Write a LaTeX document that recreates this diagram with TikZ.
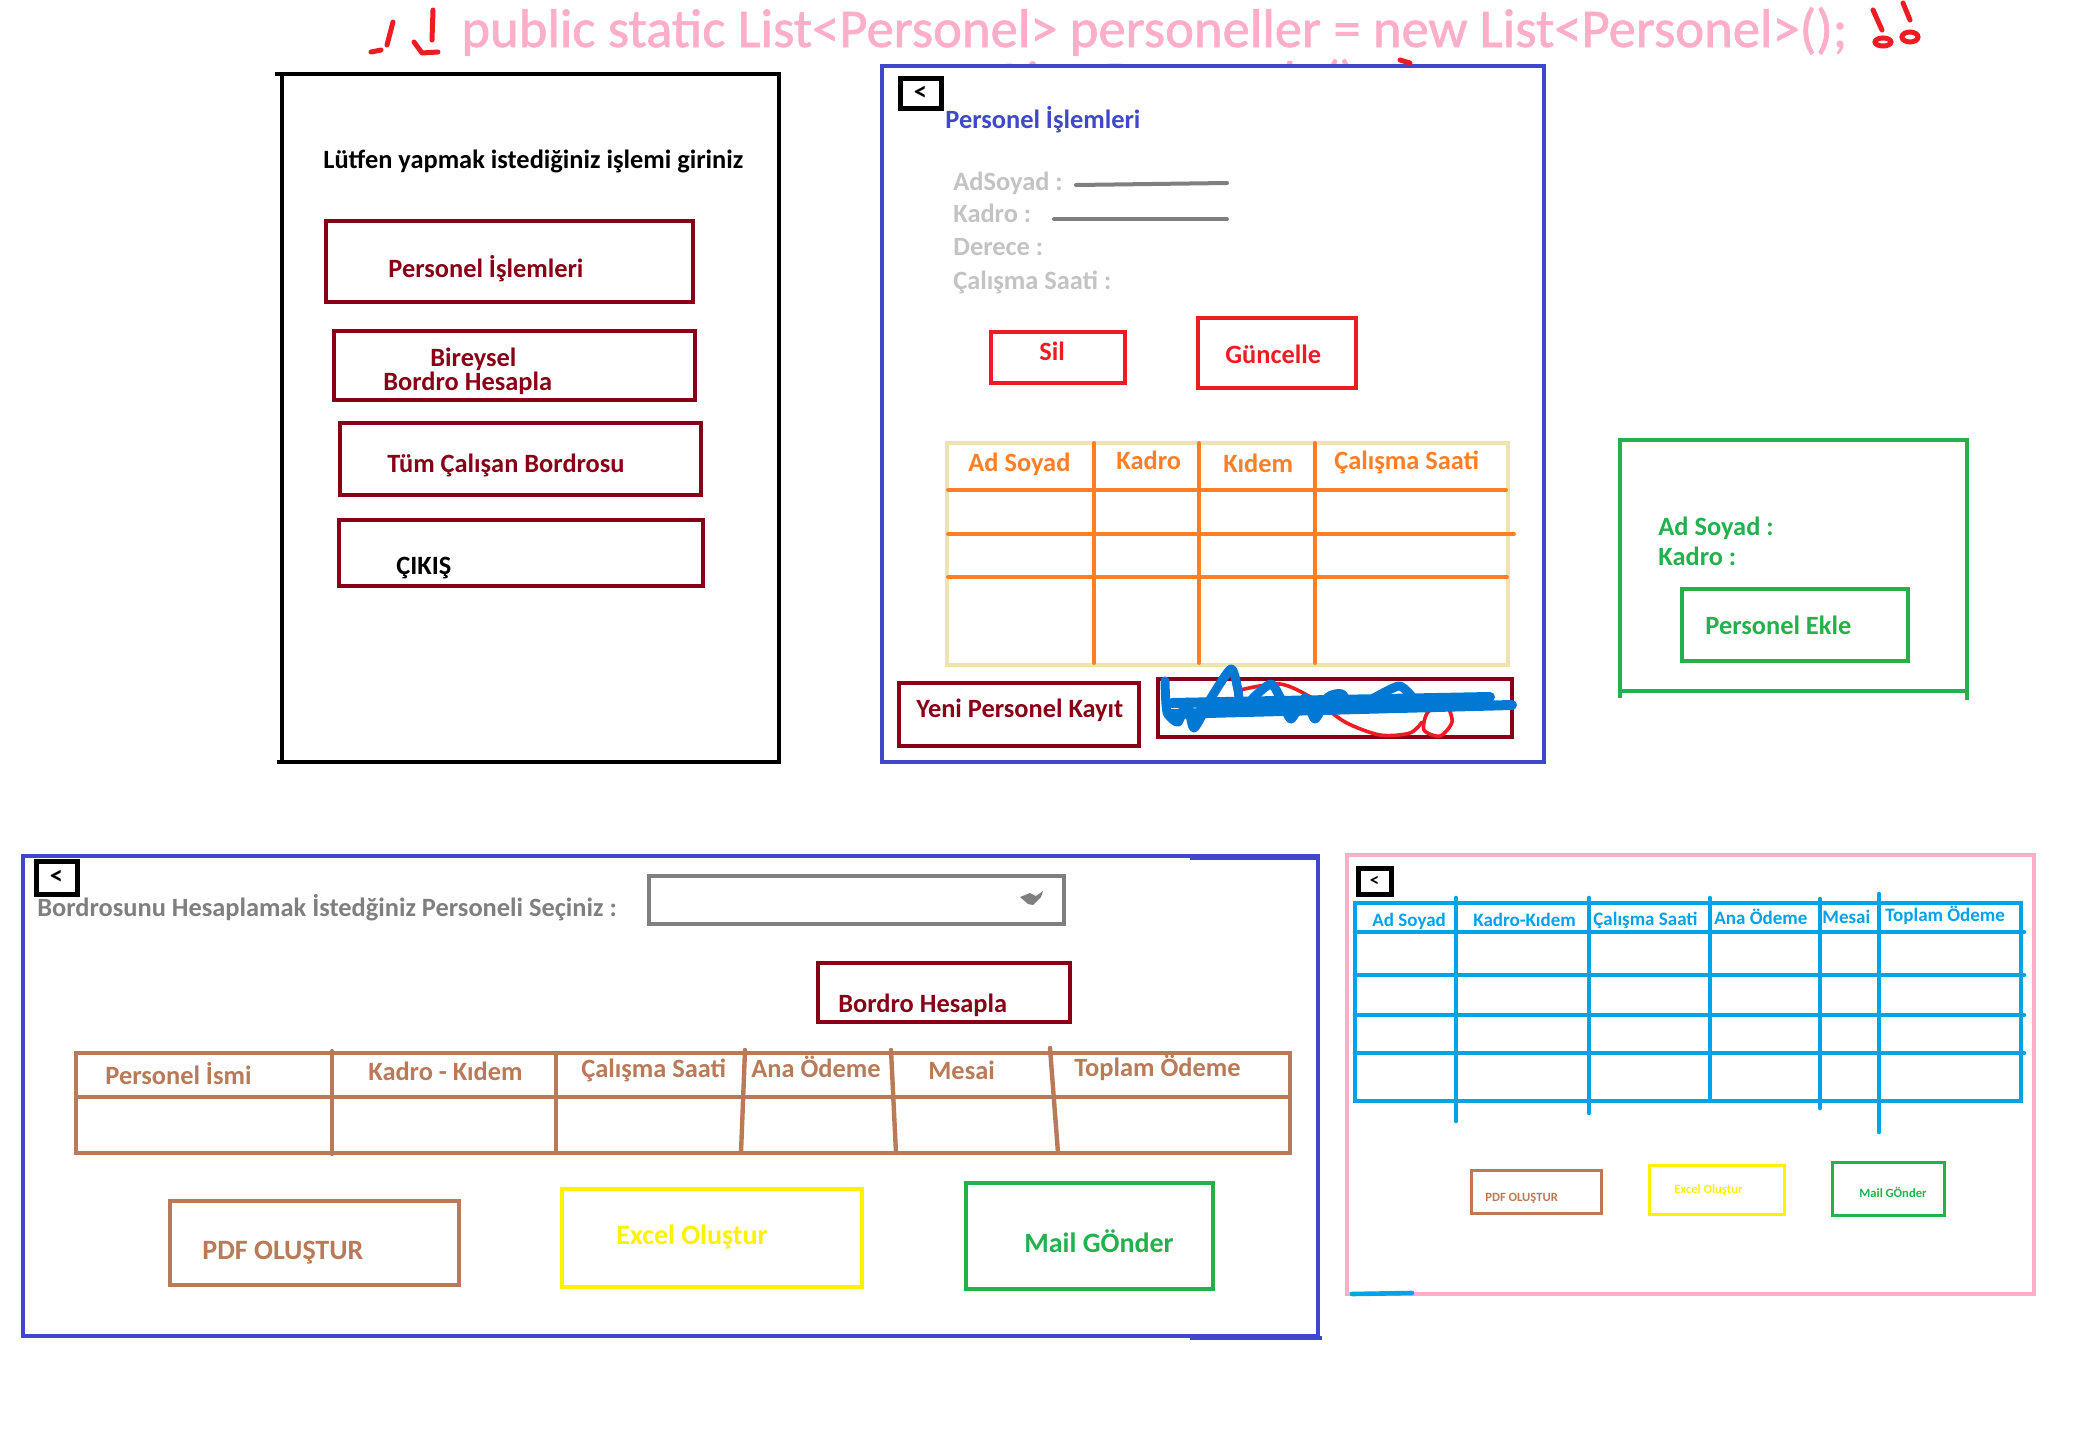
\documentclass[tikz,border=0pt]{standalone}
\usepackage{fontspec}
\setmainfont{Carlito}
\newfontfamily\titlefont{Carlito}[FakeBold=1.2]
\usetikzlibrary{fit}
\definecolor{dred}{HTML}{880015}
\definecolor{pblue}{HTML}{3F48CC}
\definecolor{rred}{HTML}{ED1C24}
\definecolor{orng}{HTML}{FF7F27}
\definecolor{beige}{HTML}{EFE4B0}
\definecolor{grn}{HTML}{22B14C}
\definecolor{pinkc}{HTML}{FFAEC9}
\definecolor{cyanb}{HTML}{00A2E8}
\definecolor{brwn}{HTML}{B97A57}
\definecolor{yel}{HTML}{FFF200}
\definecolor{lgray}{HTML}{C3C3C3}
\definecolor{mgray}{HTML}{7F7F7F}
\definecolor{scrib}{HTML}{0078D4}
\begin{document}
\begin{tikzpicture}[x=0.5pt,y=-0.5pt,
  panel/.style={draw=#1, line width=2.3pt, fill=white, inner sep=0pt},
  btn/.style={draw=#1, line width=2pt, inner sep=0pt},
  txt/.style={inner sep=0pt, anchor=base west, text=#1, font=\fontsize{13.2}{15}\selectfont\bfseries},
  btxt/.style={inner sep=0pt, anchor=base west, text=#1, font=\fontsize{14}{16}\selectfont\bfseries},
  stxt/.style={inner sep=0pt, anchor=base west, text=#1, font=\fontsize{9.5}{11}\selectfont\bfseries},
  ttxt/.style={inner sep=0pt, anchor=base west, text=#1, font=\fontsize{6.3}{7}\selectfont\bfseries},
  ttl/.style={inner sep=0pt, anchor=base west, text=pinkc, font=\titlefont\fontsize{27.3}{32}\selectfont},
  backbox/.style={draw=black, line width=2.5pt, inner sep=0pt},
  tline/.style={draw=#1, line width=2pt, line cap=round},
  redmark/.style={draw=rred, line width=2.5pt, line cap=round, line join=round},
]
\fill[white] (0,0) rectangle (2085,1446);
\useasboundingbox (0,0) rectangle (2085,1446);

% ---------- title ----------
\node[ttl] (title) at (461,47) {public static List<Personel> personeller = new List<Personel>();};
\node[ttl] (title2) at (896,99) {new List<Personel>();};
\draw[redmark] (393,22) -- (387,45);
\draw[redmark] (371,52) -- (381,50);
\draw[redmark] (433,10) -- (432,40);
\draw[redmark] (414,42) -- (422,53) -- (438,52);
\draw[redmark] (1873,10) -- (1882,30);
\draw[redmark] (1903,3) -- (1910,20);
\draw[rred, line width=2.5pt] (1883,42) ellipse [x radius=8, y radius=4];
\draw[rred, line width=2.5pt] (1910,37) ellipse [x radius=8, y radius=5];

% ---------- panel 1 ----------
\node[panel=black, fit={(282,74) (779,762)}] (p1) {};
\draw[black, line width=2.3pt] (275,74) -- (282,74);
\draw[black, line width=2.3pt] (277,762) -- (282,762);
\node[txt=black] (p1h) at (323,168) {Lütfen yapmak istediğiniz işlemi giriniz};
\node[btn=dred, fit={(326,221) (693,302)}] (b1) {};
\node[txt=dred] (b1t) at (388,277) {Personel İşlemleri};
\node[btn=dred, fit={(334,331) (695,400)}] (b2) {};
\node[txt=dred] (b2t) at (430,366) {Bireysel};
\node[txt=dred] (b2u) at (383,390) {Bordro Hesapla};
\node[btn=dred, fit={(340,423) (701,495)}] (b3) {};
\node[txt=dred] (b3t) at (387,472) {Tüm Çalışan Bordrosu};
\node[btn=dred, fit={(339,520) (703,586)}] (b4) {};
\node[txt=black] (b4t) at (396,574) {ÇIKIŞ};

% ---------- panel 2 ----------
\node[panel=pblue, fit={(882,66) (1544,762)}] (p2) {};
\draw[redmark] (1400,60) -- (1410,63);
\node[backbox, fit={(900,78) (941,108)}] (p2back) {};
\node[txt=black, anchor=center] at (p2back.center) {<};
\node[txt=pblue] (p2h) at (945,128) {Personel İşlemleri};
\node[txt=lgray] (l1) at (953,190) {AdSoyad :};
\node[txt=lgray] (l2) at (953,222) {Kadro :};
\node[txt=lgray] (l3) at (953,255) {Derece :};
\node[txt=lgray] (l4) at (953,289) {Çalışma Saati :};
\draw[tline=mgray] (1076,185) -- (1227,183);
\draw[tline=mgray] (1054,219) -- (1227,219);
\node[btn=rred, fit={(991,332) (1125,383)}] (sil) {};
\node[txt=rred, anchor=base] at (1052,360) {Sil};
\node[btn=rred, fit={(1198,318) (1356,388)}] (gun) {};
\node[txt=rred] at (1225,363) {Güncelle};
% table
\node[btn=beige, fit={(947,443) (1508,665)}] (tab2) {};
\foreach \x in {1094,1199,1315} \draw[tline=orng] (\x,443) -- (\x,663);
\foreach \y/\e in {490/1506,534/1514,577/1507} \draw[tline=orng] (948,\y) -- (\e,\y);
\node[txt=orng] at (968,471) {Ad Soyad};
\node[txt=orng] at (1116,469) {Kadro};
\node[txt=orng] at (1223,472) {Kıdem};
\node[txt=orng] at (1334,469) {Çalışma Saati};
\node[btn=dred, fit={(899,683) (1139,746)}] (yeni) {};
\node[txt=dred] at (916,717) {Yeni Personel Kayıt};
\node[btn=dred, fit={(1158,679) (1512,737)}] (crossed) {};
\draw[rred, line width=1.8pt, line cap=round] plot[smooth] coordinates {(1240,690) (1280,684) (1312,698) (1345,722) (1380,735) (1410,733) (1422,722)};
\draw[rred, line width=1.8pt, line cap=round] plot[smooth cycle] coordinates {(1428,712) (1424,730) (1440,736) (1452,722) (1446,706)};
\draw[scrib, line width=4.5pt, line cap=round, line join=round] plot[smooth, tension=0.4] coordinates {(1165,681) (1167,712) (1178,722) (1187,702) (1194,728) (1211,698) (1231,669) (1238,690) (1241,712) (1254,697) (1271,684) (1281,699) (1291,719) (1305,698) (1315,719) (1328,697) (1342,694) (1352,709) (1370,700) (1399,686) (1413,698)};
\draw[scrib, line width=5pt, line cap=round] (1168,714) -- (1512,705);
\draw[scrib, line width=5pt, line cap=round] (1172,703) -- (1490,697);
\draw[scrib, line width=4pt, line cap=round] (1200,709) -- (1470,701);

% ---------- panel 3 ----------
\node[panel=grn, fit={(1620,440) (1967,691)}] (p3) {};
\draw[grn, line width=2.3pt] (1620,691) -- (1620,698);
\draw[grn, line width=2.3pt] (1967,691) -- (1967,700);
\node[txt=grn] at (1658,535) {Ad Soyad :};
\node[txt=grn] at (1658,565) {Kadro :};
\node[btn=grn, fit={(1682,589) (1908,661)}] (ekle) {};
\node[txt=grn] at (1705,634) {Personel Ekle};

% ---------- panel 4 ----------
\node[panel=pblue, fit={(23,856) (1318,1336)}] (p4) {};
\draw[pblue, line width=2.3pt] (1190,858) -- (1318,858);
\draw[pblue, line width=2.3pt] (1190,1338) -- (1322,1338);
\node[backbox, fit={(36,861) (77,894)}] (p4back) {};
\node[txt=black, anchor=center] at (p4back.center) {<};
\node[txt=mgray] (p4h) at (37,916) {Bordrosunu Hesaplamak İstedğiniz Personeli Seçiniz :};
\node[btn=mgray, fit={(649,876) (1064,924)}] (combo) {};
\fill[mgray] (1020,897) -- (1030,893) -- (1036,896) -- (1043,891) -- (1041,897) -- (1033,905) -- (1028,904) -- cycle;
\node[btn=dred, fit={(818,963) (1070,1022)}] (bh) {};
\node[txt=dred] at (838,1012) {Bordro Hesapla};
% brown table
\node[btn=brwn, line width=2.2pt, fit={(76,1053) (1290,1153)}] (tab4) {};
\draw[tline=brwn, line width=2.2pt] (76,1097) -- (1290,1097);
\draw[tline=brwn, line width=2.2pt] (332,1051) -- (332,1154);
\draw[tline=brwn, line width=2.2pt] (556,1053) -- (556,1153);
\draw[tline=brwn, line width=2.2pt] (745,1050) -- (741,1153);
\draw[tline=brwn, line width=2.2pt] (891,1050) -- (896,1153);
\draw[tline=brwn, line width=2.2pt] (1050,1048) -- (1058,1153);
\node[txt=brwn] at (105,1084) {Personel İsmi};
\node[txt=brwn] at (368,1080) {Kadro - Kıdem};
\node[txt=brwn] at (581,1077) {Çalışma Saati};
\node[txt=brwn] at (751,1077) {Ana Ödeme};
\node[txt=brwn] at (928,1079) {Mesai};
\node[txt=brwn] at (1074,1076) {Toplam Ödeme};
\node[btn=brwn, fit={(170,1201) (459,1285)}] (pdf) {};
\node[btxt=brwn] at (202,1259) {PDF OLUŞTUR};
\node[btn=yel, fit={(562,1189) (862,1287)}] (excel) {};
\node[btxt=yel] at (616,1244) {Excel Oluştur};
\node[btn=grn, fit={(966,1183) (1213,1289)}] (mail) {};
\node[btxt=grn] at (1024,1252) {Mail GÖnder};

% ---------- panel 5 ----------
\node[panel=pinkc, fit={(1347,855) (2034,1294)}] (p5) {};
\draw[cyanb, line width=2.3pt, line cap=round] (1352,1294) -- (1412,1293);
\node[backbox, fit={(1358,868) (1391,894)}] (p5back) {};
\node[stxt=black, anchor=center] at (p5back.center) {<};
\draw[cyanb, line width=2.3pt] (1355,903) rectangle (2021,1101);
\foreach \y in {932,975,1015,1053} \draw[tline=cyanb, line width=2.3pt] (1355,\y) -- (2024,\y);
\draw[tline=cyanb, line width=2.3pt] (1456,898) -- (1456,1121);
\draw[tline=cyanb, line width=2.3pt] (1589,898) -- (1589,1113);
\draw[tline=cyanb, line width=2.3pt] (1710,898) -- (1710,1101);
\draw[tline=cyanb, line width=2.3pt] (1820,899) -- (1820,1108);
\draw[tline=cyanb, line width=2.3pt] (1879,894) -- (1879,1132);
\node[stxt=cyanb] at (1372,926) {Ad Soyad};
\node[stxt=cyanb] at (1473,926) {Kadro-Kıdem};
\node[stxt=cyanb] at (1593,925) {Çalışma Saati};
\node[stxt=cyanb] at (1714,924) {Ana Ödeme};
\node[stxt=cyanb] at (1822,923) {Mesai};
\node[stxt=cyanb] at (1885,921) {Toplam Ödeme};
\node[btn=brwn, line width=1.5pt, fit={(1471,1170) (1601,1213)}] (pdf2) {};
\node[ttxt=brwn] at (1485,1201) {PDF OLUŞTUR};
\node[btn=yel, line width=1.5pt, fit={(1649,1165) (1784,1214)}] (excel2) {};
\node[ttxt=yel] at (1674,1193) {Excel Oluştur};
\node[btn=grn, line width=1.5pt, fit={(1832,1162) (1944,1215)}] (mail2) {};
\node[ttxt=grn] at (1859,1197) {Mail GÖnder};
\end{tikzpicture}
\end{document}
